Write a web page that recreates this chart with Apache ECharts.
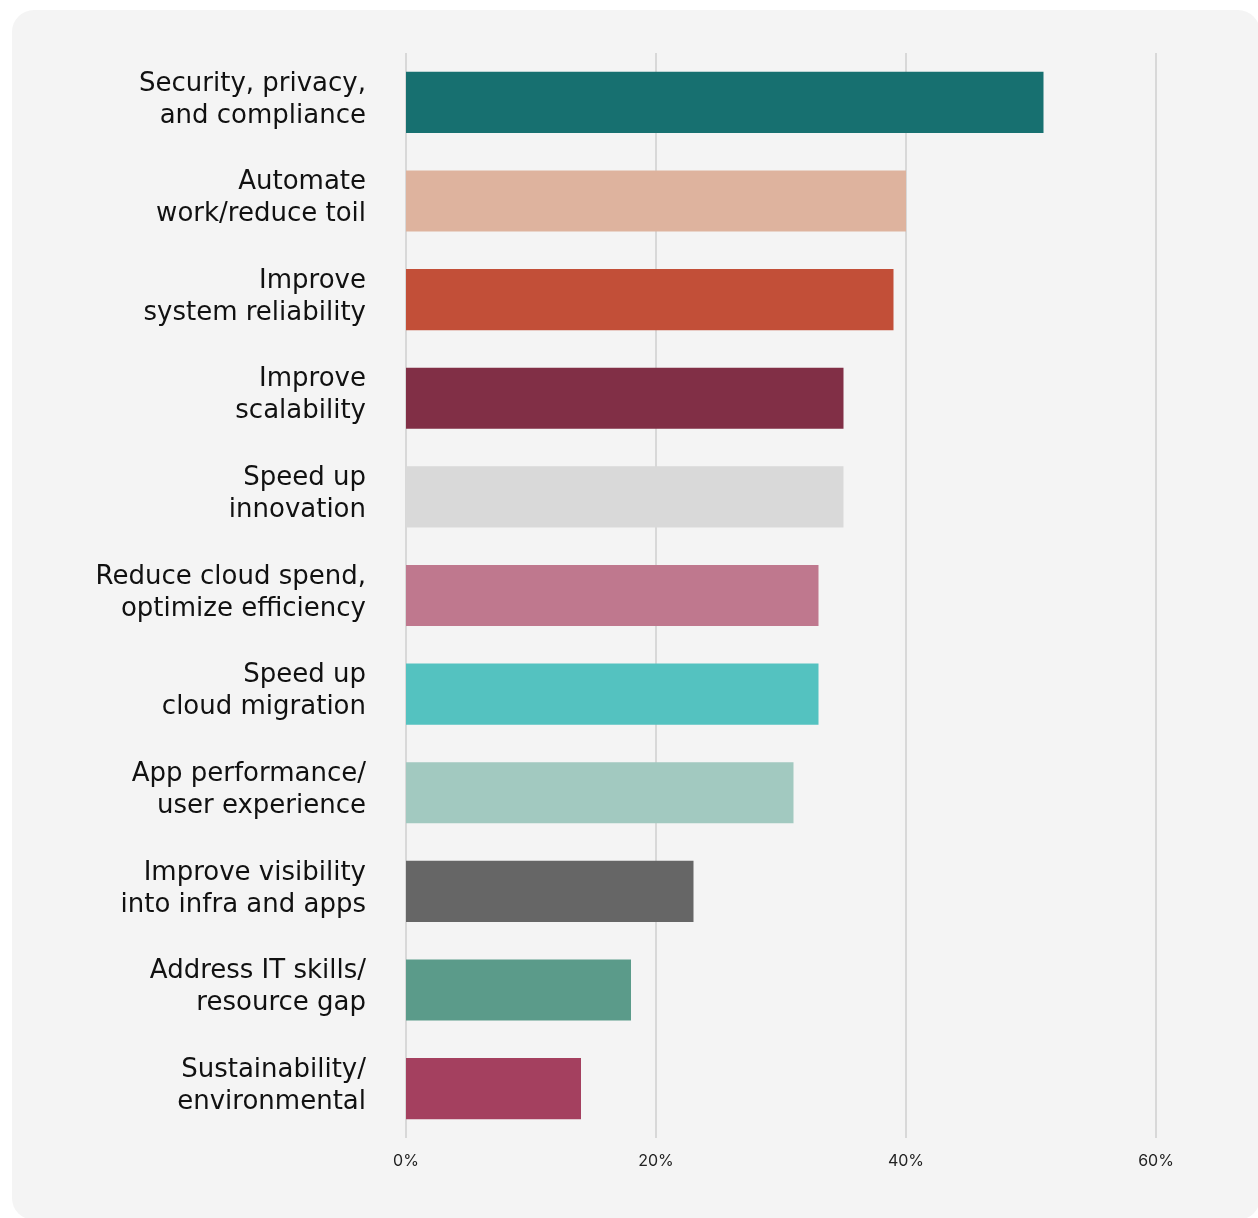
<!DOCTYPE html>
<html>
<head>
<meta charset="utf-8">
<script src="https://cdn.jsdelivr.net/npm/echarts@6/dist/echarts.min.js"></script>
<style>
  html, body { margin: 0; padding: 0; background: #ffffff; }
  #panel { position: absolute; left: 12px; top: 10px; width: 1248px; height: 1210px; background: #f4f4f4; border-radius: 22px; }
  #chart { position: absolute; left: 0; top: 0; width: 1258px; height: 1218px; }
</style>
</head>
<body>
<div id="panel"></div>
<div id="chart"></div>
<script>
// Priorities, top to bottom
const categories = [
  'Security, privacy,\nand compliance',
  'Automate\nwork/reduce toil',
  'Improve\nsystem reliability',
  'Improve\nscalability',
  'Speed up\ninnovation',
  'Reduce cloud spend,\noptimize efficiency',
  'Speed up\ncloud migration',
  'App performance/\nuser experience',
  'Improve visibility\ninto infra and apps',
  'Address IT skills/\nresource gap',
  'Sustainability/\nenvironmental'
];
const shares = [51, 40, 39, 35, 35, 33, 33, 31, 23, 18, 14];
const barColors = [
  '#177070', '#deb39e', '#c24f38', '#812f46', '#d9d9d9', '#bf788e',
  '#54c2c0', '#a2c9c0', '#666666', '#5b9b8a', '#a4405f'
];
const tickValues = [0, 20, 40, 60];

const chart = echarts.init(document.getElementById('chart'), null, { renderer: 'canvas' });
chart.setOption({
  backgroundColor: 'transparent',
  animation: false,
  grid: { left: 406, right: 102, top: 53, bottom: 80, containLabel: false },
  xAxis: {
    type: 'value',
    min: 0, max: 60, interval: 20,
    axisLine: { show: false },
    axisTick: { show: false },
    splitLine: { show: true, lineStyle: { color: '#d8d8d8', width: 2 } },
    axisLabel: {
      formatter: v => tickValues.includes(v) ? v + '%' : '',
      color: '#222222', fontSize: 16, fontFamily: 'Inter', margin: 15
    }
  },
  yAxis: {
    type: 'category',
    inverse: true,
    data: categories,
    axisLine: { show: false },
    axisTick: { show: false },
    axisLabel: {
      // two text lines plus a short spacer line so the text sits a little above the bar centre
      formatter: v => v.split('\n').map(s => '{t|' + s + '}').join('\n') + '\n{s| }',
      align: 'right', margin: 40,
      rich: {
        t: { color: '#111111', fontSize: 26, fontFamily: 'DejaVu Sans', lineHeight: 32, align: 'right' },
        s: { fontSize: 1, lineHeight: 5 }
      }
    }
  },
  series: [{
    type: 'bar',
    data: shares.map((v, i) => ({ value: v, itemStyle: { color: barColors[i] } })),
    barCategoryGap: '38%',
    silent: true
  }]
});
</script>
</body>
</html>
